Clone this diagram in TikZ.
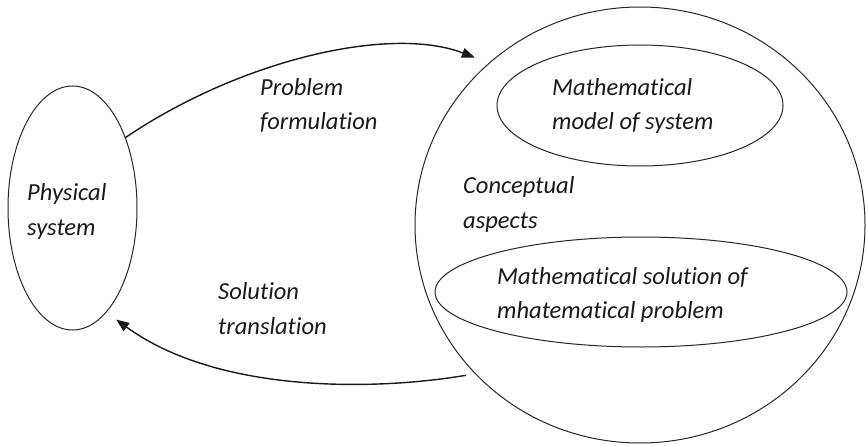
\documentclass[tikz,border=0pt]{standalone}
\usepackage{fontspec}
\setmainfont{Carlito}[Ligatures={NoCommon,NoRare,NoContextual}]
\usetikzlibrary{shapes.geometric,arrows.meta}
\begin{document}
\begin{tikzpicture}[x=1pt,y=-1pt,
  shapeline/.style={draw=black!85,line width=1pt,ellipse,inner sep=0pt},
  label/.style={anchor=base west,inner sep=0pt,align=left,
    font=\fontsize{24.5}{34.5}\selectfont\itshape,text=black!90},
  conn/.style={draw=black!90,line width=1.4pt,-{Triangle[length=13pt,width=10pt]}}]
\useasboundingbox (0,0) rectangle (866,446);
\node[shapeline,minimum width=129pt,minimum height=244pt] (phys) at (72.5,208) {};
\node[shapeline,minimum width=450pt,minimum height=436pt] (big) at (640,225) {};
\node[shapeline,minimum width=286pt,minimum height=121pt] (model) at (640,105.5) {};
\node[shapeline,minimum width=412pt,minimum height=110pt] (solution) at (641,292) {};
\node[label] (tphys) at (27,235) {Physical\\system};
\node[label] (tprob) at (260,130) {Problem\\formulation};
\node[label] (tsol) at (218,334) {Solution\\translation};
\node[label] (tmodel) at (552,130) {Mathematical\\model of system};
\node[label] (tconc) at (463,228) {Conceptual\\aspects};
\node[label] (tmsol) at (497,318.5) {Mathematical solution of\\mhatematical problem};
\draw[conn,shorten >=15pt] (phys.53) .. controls (240,60) and (390,25) .. (big.133);
\draw[conn,shorten <=9pt,shorten >=12pt] (big.222) .. controls (380,390) and (220,395) .. (phys.-72);
\end{tikzpicture}
\end{document}
